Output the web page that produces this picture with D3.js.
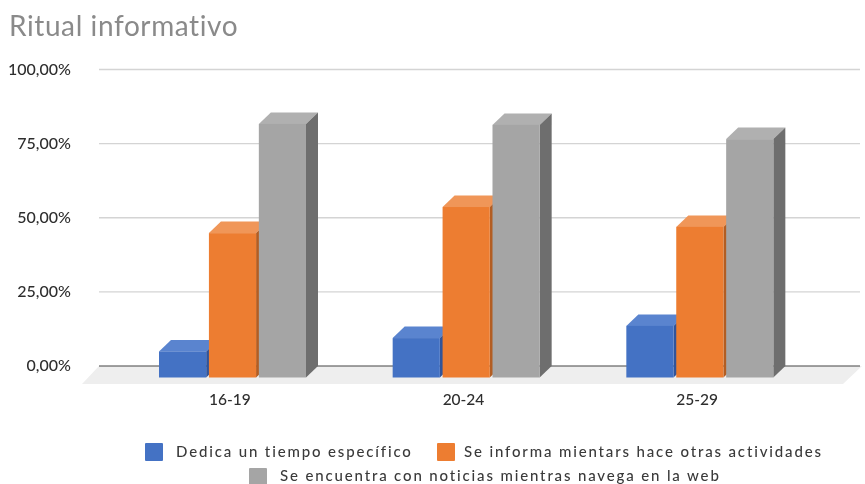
<!DOCTYPE html>
<html><head><meta charset="utf-8">
<script src="https://cdn.jsdelivr.net/npm/d3@7"></script>
<style>html,body{margin:0;padding:0;background:#fff}svg{display:block;filter:blur(.55px)}text{font-family:Lato,"Open Sans",sans-serif}</style>
</head><body><svg id="c" width="865" height="484"></svg>
<script>
const title = "Ritual informativo";
const categories = ["16-19","20-24","25-29"];
const seriesNames = ["Dedica un tiempo específico","Se informa mientars hace otras actividades","Se encuentra con noticias mientras navega en la web"];
const blueValues = [8.8,13.3,17.4];
const orangeValues = [48.7,57.5,50.8];
const grayValues = [85.5,85.2,80.4];
const yTicks = [0,25,50,75,100];
const colors = [["#4472c4","#5a84cf","#31549a"],["#ed7d31","#f09658","#b35d22"],["#a5a5a5","#b0b0b0","#6e6e6e"]];
const allValues=[blueValues,orangeValues,grayValues];
const svg=d3.select("#c");
const y=d3.scaleLinear().domain([0,100]).range([366,69.5]);
const x0=d3.scaleBand().domain(categories).range([113,814]);
const x1=d3.scaleBand().domain([0,1,2]).range([0,147]).paddingInner(0.055);
const dx=12,dy=11.5;

// floor
svg.append("path").attr("d",d3.line()([[99,366],[862,366],[843,384],[82,384]])).attr("fill","#eeeeee");
// gridlines
svg.append("g").selectAll("line").data(yTicks).join("line")
 .attr("x1",99).attr("x2",860).attr("y1",d=>y(d)).attr("y2",d=>y(d))
 .attr("stroke",d=>d===0?"#444":"#d4d4d4").attr("stroke-width",d=>d===0?1.2:1.3);
// y labels
svg.append("g").selectAll("text").data(yTicks).join("text")
 .attr("x",71).attr("y",d=>y(d)+5).attr("text-anchor","end")
 .attr("font-size",16).attr("font-weight",500).attr("fill","#2e2e2e")
 .text(d=>d3.format(".2f")(d).replace(".",",")+"%");
// bars
const bw=x1.bandwidth();
const front=v=>y(v)+dy;
const base=y(0)+dy;
categories.forEach((c,ci)=>{
  [0,1,2].forEach(si=>{
    const g=svg.append("g");
    const v=allValues[si][ci], l=x0(c)+46+x1(si), r=l+bw, t=front(v);
    const col=colors[si];
    g.append("path").attr("d",d3.line()([[l,t],[l+dx,t-dy],[r+dx,t-dy],[r,t]])).attr("fill",col[1]);
    g.append("path").attr("d",d3.line()([[r,t],[r+dx,t-dy],[r+dx,base-dy],[r,base]])).attr("fill",col[2]);
    g.append("rect").attr("x",l).attr("y",t).attr("width",bw).attr("height",base-t).attr("fill",col[0]);
  });
});
// x labels
svg.append("g").selectAll("text").data(categories).join("text")
 .attr("x",d=>x0(d)+x0.bandwidth()/2).attr("y",405).attr("text-anchor","middle")
 .attr("font-size",15.5).attr("font-weight",500).attr("fill","#2e2e2e").text(d=>d);
// title
svg.append("text").attr("x",9).attr("y",36).attr("font-size",28).attr("letter-spacing",0.6).attr("fill","#8a8a8a").text(title);
// legend
const legend=[[145,451,176,457],[437,451,464,457],[249,476,280,481]];
const lg=svg.append("g").selectAll("g").data(seriesNames).join("g");
lg.append("rect").attr("x",(d,i)=>legend[i][0]).attr("y",(d,i)=>legend[i][1]-8).attr("width",18).attr("height",18).attr("rx",1).attr("fill",(d,i)=>colors[i][0]);
lg.append("text").attr("x",(d,i)=>legend[i][2]).attr("y",(d,i)=>legend[i][3]).attr("font-size",15).attr("letter-spacing",1.85).attr("font-weight",500).attr("fill","#3a3a3a").text(d=>d);
</script></body></html>
